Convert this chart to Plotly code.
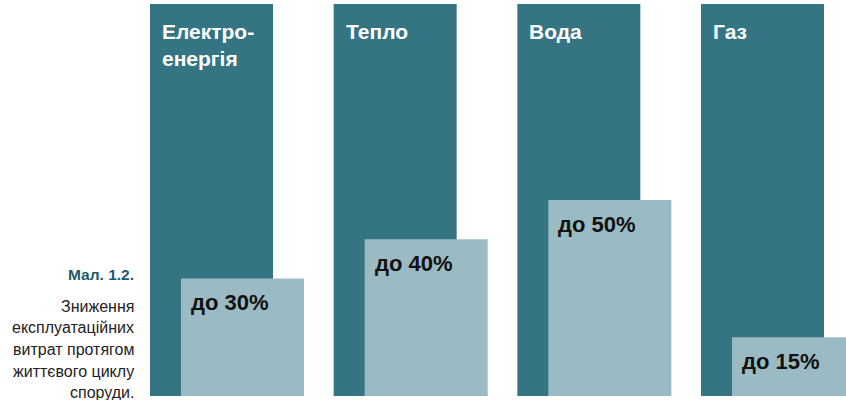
import plotly.graph_objects as go

categories = ["Електро-<br>енергія", "Тепло", "Вода", "Газ"]
total = [100, 100, 100, 100]
reduction = [30, 40, 50, 15]
reduction_labels = ["до 30%", "до 40%", "до 50%", "до 15%"]
caption_title = "Мал. 1.2."
caption_lines = ["Зниження", "експлуатаційних", "витрат протягом", "життєвого циклу", "споруди."]

DARK = "#357583"
LIGHT = "#9bbbc4"
FONT = "Liberation Sans, Arial, sans-serif"

W, H = 846, 400
MT, MB = 4, 4
step = 183.67
bar_w = 123 / step
light_shift = 31 / step
xs = list(range(len(categories)))
x0 = -211.5 / step
x1 = x0 + W / step

fig = go.Figure()
fig.add_trace(go.Bar(x=xs, y=total, width=bar_w, offset=-bar_w / 2,
                     marker=dict(color=DARK, line=dict(width=0)), hoverinfo="skip"))
fig.add_trace(go.Bar(x=xs, y=reduction, width=bar_w, offset=-bar_w / 2 + light_shift,
                     marker=dict(color=LIGHT, line=dict(width=0)), hoverinfo="skip"))

ann = []
for i, c in enumerate(categories):
    ann.append(dict(x=i - bar_w / 2 + 10 / step, y=total[i], xref="x", yref="y",
                    xanchor="left", yanchor="top", yshift=-14, text=c, showarrow=False,
                    align="left", font=dict(family=FONT, size=21, color="white", weight="bold")))
    ann.append(dict(x=i - bar_w / 2 + light_shift + 8 / step, y=reduction[i], xref="x", yref="y",
                    xanchor="left", yanchor="top", yshift=-10, text=reduction_labels[i],
                    showarrow=False, align="left",
                    font=dict(family=FONT, size=22, color="#111111", weight="bold")))

def py(p):
    return (H - MB - p) / (H - MT - MB)

ann.append(dict(x=136 / W, y=py(274), xref="paper", yref="paper", xanchor="right",
                yanchor="middle", text=caption_title, showarrow=False,
                font=dict(family=FONT, size=15.5, color="#1d5b69", weight="bold")))
for k, line in enumerate(caption_lines):
    ann.append(dict(x=136 / W, y=py(306 + k * 21.7), xref="paper", yref="paper",
                    xanchor="right", yanchor="middle", text=line, showarrow=False,
                    font=dict(family=FONT, size=16, color="#222222")))

fig.update_layout(
    width=W, height=H, barmode="overlay", showlegend=False,
    margin=dict(l=0, r=0, t=MT, b=MB),
    paper_bgcolor="white", plot_bgcolor="white",
    xaxis=dict(range=[x0, x1], visible=False, fixedrange=True),
    yaxis=dict(range=[0, 100], visible=False, fixedrange=True),
    annotations=ann,
)
fig.write_html("out.html", config={"displayModeBar": False},
               post_script="document.body.style.margin='0';document.body.style.overflow='hidden';")
